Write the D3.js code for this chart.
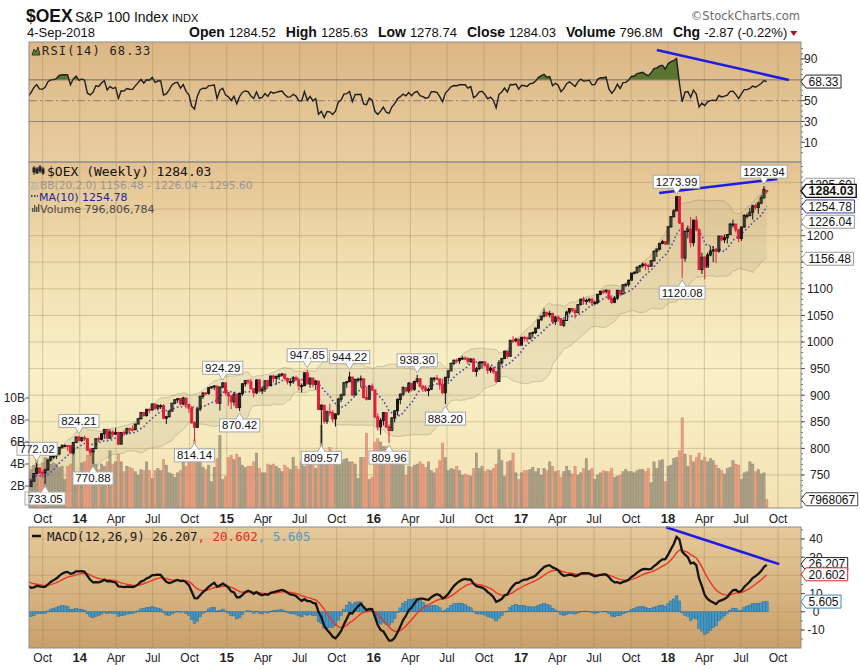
<!DOCTYPE html>
<html><head><meta charset="utf-8">
<script src="https://cdn.jsdelivr.net/npm/d3@7/dist/d3.min.js"></script>
<style>html,body{margin:0;padding:0;background:#fff;}svg{display:block}</style>
</head><body>
<script>
// ================= DATA =================
const firstWeekMonday = "2013-08-26";
// weekly closes before the visible window (used only to warm up the indicators)
const warmupCloses = [654.0,656.5,662.7,670.3,674.9,677.0,677.8,676.0,677.1,691.8,696.1,694.4,699.9,692.8,708.6,693.6,705.7,720.0,728.6,743.7,735.7,727.3,732.9,725.5,710.2,716.4,727.8,749.4,754.7,754.5,762.5,754.4,738.5,741.9];
const closes = [
728.3,738.2,752.8,762.6,754.5,754.0,759.6,778.0,784.9,785.7,789.7,802.0,804.9,805.4,805.1,791.8,811.0,821.3,
815.0,819.9,818.2,796.7,793.3,799.7,818.2,817.1,827.5,835.7,819.3,830.6,826.6,830.0,808.0,829.9,829.2,837.1,835.9,835.6,845.7,856.0,867.5,861.6,873.5,872.6,883.5,875.6,880.3,880.4,856.7,859.6,870.0,884.8,891.5,893.4,883.6,894.6,882.4,875.7,848.2,839.6,874.2,898.0,904.2,903.6,914.1,915.9,917.3,885.0,915.2,923.2,
904.6,898.7,887.5,901.8,876.8,903.4,921.6,927.5,925.0,912.2,904.5,928.6,907.9,911.5,927.0,917.8,935.9,931.9,935.3,938.3,939.7,931.5,925.0,925.6,932.6,928.9,917.9,917.9,942.1,921.3,932.0,920.4,926.5,873.1,881.1,851.1,868.7,867.4,855.6,864.5,892.6,900.7,923.4,925.3,934.1,900.3,929.7,930.1,930.8,895.5,892.5,917.1,909.6,
859.2,840.5,852.4,867.3,840.4,833.6,857.2,870.8,892.0,901.9,914.1,908.0,922.4,911.2,925.9,930.8,917.0,913.4,908.7,911.2,932.0,932.0,930.7,919.6,904.6,933.7,945.7,959.8,965.7,965.1,969.2,969.7,969.6,963.1,967.9,944.7,949.8,961.1,962.7,956.3,947.0,950.7,944.1,925.8,961.0,968.8,982.7,973.2,1003.2,1002.6,1005.1,994.0,
1008.7,1007.7,1006.2,1016.5,1017.8,1026.0,1041.6,1048.7,1055.7,1051.1,1053.6,1038.4,1046.7,1043.5,1031.7,1040.5,1056.2,1062.9,1059.2,1055.1,1070.2,1080.5,1077.3,1077.9,1080.2,1073.6,1074.4,1089.5,1095.3,1095.1,1097.2,1081.5,1074.5,1082.3,1097.1,1090.4,1107.6,1108.5,1116.1,1129.4,1131.0,1140.8,1143.4,1146.4,1143.9,1142.4,1152.9,1170.5,1174.6,1185.4,1188.7,1184.4,
1216.6,1235.7,1246.4,1273.2,1223.6,1157.8,1207.6,1211.6,1186.8,1228.9,1210.9,1136.2,1159.3,1140.8,1163.5,1170.9,1173.4,1170.6,1198.8,1192.3,1196.0,1201.9,1221.4,1221.7,1210.8,1194.7,1216,1238,1238,1244,1256,1253,1261,1271,1286.9,1284.03];
const highs = [
744.6,743,753.5,772.02,764,758,762,779,786,790,791,802.5,808,808,806,806,812,822,
824.21,822,824,819,801,800,818.5,822,829,836.5,835,836,834,838,829,830.5,834,839,839,843,846.5,856.5,868,868,874,874,884,883,883,883,883,861,871,885.5,892,894.5,893,897,894,884,880,851,875,898.5,905,906,915,917,919,917,916,924.29,
923,906,900,906,903,905,922,928,930,931,913,930,931,917,928,930,937,939,937,941,942,940,933,930,936,937,926,922,943,947.85,934,933,929,926,883,875,871,884,872,866,895,903,925,927,944.22,932,931,933,937,930,915,918,922,
906,866,857,868,866,845,859,872,894,903,917,915,925,922,927,938.30,932,919,919,914,933,934,938,928,931,934,947,961,967,969,970,974,973,970,970,970,953,964,964,963,958,954,954,945,966,970,983,983,1004,1011,1008,1007,
1010,1012,1010,1018,1020,1027,1042,1049,1063,1057,1059,1055,1049,1050,1045,1043,1059,1063,1063,1064,1071,1081,1085,1082,1083,1083,1078,1090,1096,1099,1099,1098,1088,1086,1098,1097,1108,1110,1117,1130,1133,1141,1145,1149,1149,1146,1154,1172,1176,1186,1192,1189,
1217,1236,1250,1273.99,1272,1216,1210,1219,1235,1230,1237,1214,1168,1162,1168,1180,1180,1177,1200,1201,1202,1203,1224,1230,1222,1213,1217,1240,1242,1252,1258,1260,1264,1276,1292.94,1285.63];
const lows = [
725.9,728.5,739,752,752.5,745,733.05,758,775,780,780,787,799,802,795,790,788,812,
813,812,814,796,786,770.88,799,812,815,818,818,818,821,826,806,808,824,826,829,832,834,846,854,860,860,866,871,872,871,874,855,846,858,870,883,886,881,881,875,867,846,814.14,838,870,893,900,901,912,910,884,871,913,
900,880,874,880,875,870.42,899,916,920,910,896,902,905,902,906,912,917,924,920,929,935,928,920,917,921,927,909,905,917,920,914,915,910,872,809.57,846,846,862,849,841,862,887,898,914,925,899,900,924,915,894,890,892,908,
857,834,826,843,838,809.96,836,849,862,883,898,905,904,907,908,922,914,906,906,898,910,925,928,910,902,883.20,926,946,957,960,959,967,966,958,961,944,935,947,950,952,940,942,940,923,925,957,969,969,973,998,999,992,
995,1001,1000,1005,1008,1015,1025,1040,1046,1047,1046,1034,1032,1038,1030,1028,1050,1052,1056,1044,1056,1069,1070,1070,1074,1068,1069,1071,1088,1090,1091,1079,1071,1073,1079,1086,1095,1103,1104,1117,1127,1128,1131,1140,1135,1135,1143,1151,1160,1172,1184,1182,
1188,1215,1234,1247,1222,1120.08,1151,1195,1178,1180,1208,1135,1128,1118,1143,1161,1150,1148,1168,1189,1186,1185,1203,1215,1206,1188,1190,1215,1232,1236,1230,1249,1241,1259,1270,1278.74];
// weekly volume, billions of shares
const volumesB = [
3.2,3.5,3.9,4.9,3.7,4.1,4.6,4.5,4.0,4.1,4.0,3.7,3.8,2.6,3.8,4.0,5.4,2.3,
2.6,4.1,4.2,4.8,5.4,5.2,4.0,3.5,4.0,3.8,4.2,5.2,4.0,4.2,4.9,4.2,3.3,3.8,3.7,3.6,3.3,3.0,3.5,3.4,4.2,3.4,2.7,3.4,3.6,3.4,4.4,3.9,3.2,3.1,2.8,3.2,3.4,4.9,3.8,4.3,4.9,6.2,4.5,4.7,3.7,3.5,3.9,2.4,3.7,4.5,6.6,2.6,
2.9,4.6,4.8,4.4,4.9,4.6,3.9,3.7,3.8,3.8,4.2,5.0,3.6,3.2,3.2,4.0,3.9,4.0,3.8,3.6,3.3,3.9,3.7,3.5,4.6,3.8,3.5,4.2,3.8,4.0,4.2,3.9,3.6,5.1,7.5,4.8,4.2,5.5,4.5,4.9,4.6,4.1,4.4,4.5,4.2,4.2,4.0,2.7,4.6,4.6,6.8,2.6,2.8,
6.0,6.3,6.0,5.6,5.6,5.6,4.5,4.6,4.8,4.2,5.0,3.0,3.8,3.7,3.9,4.0,4.2,4.0,3.7,4.2,3.4,3.2,3.6,4.3,5.9,4.6,3.4,3.6,3.5,3.8,3.4,3.0,3.1,3.0,2.9,3.6,5.0,3.6,3.8,3.3,3.5,3.4,3.6,4.0,5.3,4.3,2.9,4.2,4.3,5.0,3.2,2.6,
3.2,3.4,3.4,3.5,3.7,3.3,3.6,3.0,3.6,3.4,4.2,3.8,3.3,3.4,2.8,3.3,3.8,3.4,3.1,3.8,3.0,3.2,3.6,4.5,3.4,3.6,2.6,3.0,3.2,3.4,3.3,3.3,3.6,2.8,2.9,3.0,3.3,3.5,3.3,3.3,3.2,3.4,3.5,3.5,3.3,3.6,2.3,4.2,3.6,4.3,4.4,2.4,
3.8,3.9,4.5,4.6,5.2,8.2,4.9,3.8,4.8,4.2,4.6,5.0,4.3,4.6,4.2,4.5,4.3,3.9,3.6,3.4,3.1,3.6,3.7,4.3,4.0,3.9,2.6,3.2,3.3,4.2,4.0,3.3,3.5,3.1,3.2,0.7968];
const lastOpen = 1284.52;

// swing labels: [week index, "high"|"low"]
const annotations = [[3,"high"],[6,"low"],[18,"high"],[23,"low"],[59,"low"],[69,"high"],[75,"low"],[99,"high"],[104,"low"],[114,"high"],[128,"low"],[138,"high"],[148,"low"],[230,"high"],[232,"low"],[261,"high"]];

// hand-drawn trend lines (date, value)
const rsiTrend = [["2017-12-04",98.7],["2018-10-28",69.9]];
const priceTrend = [["2017-12-10",1280.1],["2018-09-29",1306.4]];
const macdTrend = [["2017-12-27",46.4],["2018-10-04",26.2]];

// header text
const symbol = "$OEX", symName = "S&P 100 Index", exch = "INDX", quoteDate = "4-Sep-2018";
const quoteLabels = ["Open","High","Low","Close","Volume","Chg"];
const quoteValues = ["1284.52","1285.63","1278.74","1284.03","796.8M","-2.87 (-0.22%)"];

// legend / last-value texts
const rsiLegend = "RSI(14) 68.33", rsiLast = 68.33;
const priceLegend = "$OEX (Weekly) 1284.03";
const bbLegend = "BB(20,2.0) 1156.48 - 1226.04 - 1295.60";
const maLegend = "MA(10) 1254.78";
const volLegend = "Volume 796,806,784";
const bbLast = [1156.48, 1226.04, 1295.60], maLast = 1254.78, closeLast = 1284.03;
const volLastLabel = "7968067", volLast = 0.7968;
const macdLast = [26.207, 20.602, 5.605];

const priceGrid = [750,800,850,900,950,1000,1050,1100,1150,1200,1250,1300];
const priceTickLabels = [750,800,850,900,950,1000,1050,1100,1200];
const volTicks = [2,4,6,8,10];
const rsiGrid = [10,30,50,70,90];
const rsiTickLabels = [10,30,50,90];
const macdGrid = [-10,0,10,20,30,40];
const macdTickLabels = [-10,0,10,30,40];

// ================= LAYOUT =================
const W = 860, H = 670;
const L = 29, R = 801;
const rsiTop = 42, rsiBot = 162, mainTop = 162, mainBot = 508, macdTop = 527, macdBot = 648;
const FONT = "'Liberation Sans', Arial, sans-serif";

const parse = d3.timeParse("%Y-%m-%d");
const start = parse(firstWeekMonday);
const dates = closes.map((_, i) => d3.timeDay.offset(start, 7 * i));
const n = closes.length;

const x = d3.scaleTime().domain([parse("2013-08-28"), parse("2018-11-27")]).range([L, R]);
const yP = d3.scaleLinear().domain([750, 1300]).range([475, 182.4]);
const yV = d3.scaleLinear().domain([0, 10]).range([508, 398]);
const yR = d3.scaleLinear().domain([10, 90]).range([142.3, 59]);
const yM = d3.scaleLinear().domain([-10, 40]).range([630, 539]);

// ================= INDICATORS =================
const all = warmupCloses.concat(closes);
const off = warmupCloses.length;
const ma10 = [], bbU = [], bbM = [], bbL = [];
for (let i = 0; i < n; i++) {
  const k = i + off;
  ma10.push(d3.mean(all.slice(k - 9, k + 1)));
  const w20 = all.slice(Math.max(0, k - 19), k + 1);
  const m = d3.mean(w20);
  const sd = Math.sqrt(d3.mean(w20, v => (v - m) * (v - m)));
  bbM.push(m); bbU.push(m + 2 * sd); bbL.push(m - 2 * sd);
}
function ema(arr, p) { const a = 2 / (p + 1); const out = [arr[0]]; for (let i = 1; i < arr.length; i++) out.push(a * arr[i] + (1 - a) * out[i - 1]); return out; }
const e12 = ema(all, 12), e26 = ema(all, 26);
const macdAll = all.map((_, i) => e12[i] - e26[i]);
const sigAll = ema(macdAll, 9);
const macd = macdAll.slice(off), signal = sigAll.slice(off), hist = macd.map((v, i) => v - signal[i]);
const rsiAll = new Array(all.length).fill(null);
{
  let g = 0, l = 0;
  for (let i = 1; i <= 14; i++) { const d = all[i] - all[i - 1]; if (d > 0) g += d; else l -= d; }
  g /= 14; l /= 14; rsiAll[14] = 100 - 100 / (1 + g / l);
  for (let i = 15; i < all.length; i++) {
    const d = all[i] - all[i - 1];
    g = (g * 13 + Math.max(d, 0)) / 14; l = (l * 13 + Math.max(-d, 0)) / 14;
    rsiAll[i] = 100 - 100 / (1 + g / l);
  }
}
const rsi = rsiAll.slice(off);
const prevClose = i => (i === 0 ? warmupCloses[warmupCloses.length - 1] : closes[i - 1]);
const openOf = i => (i === n - 1 ? lastOpen : prevClose(i));

// ================= SVG =================
const svg = d3.select("body").append("svg").attr("width", W).attr("height", H)
  .style("font-family", FONT).style("background", "#fff");
const defs = svg.append("defs");
function vgrad(id, stops) {
  const g = defs.append("linearGradient").attr("id", id).attr("x1", 0).attr("y1", 0).attr("x2", 0).attr("y2", 1);
  stops.forEach(([o, c]) => g.append("stop").attr("offset", o).attr("stop-color", c));
}
vgrad("gRsi", [[0, "#dcb785"], [1, "#e8cd9f"]]);
vgrad("gMain", [[0, "#e3c290"], [0.3, "#f1dfb0"], [0.6, "#f9f0c7"], [1, "#f3e3b4"]]);
vgrad("gMacd", [[0, "#e6ca9b"], [1, "#c9a06a"]]);
function clip(id, top, bot) { defs.append("clipPath").attr("id", id).append("rect").attr("x", L).attr("y", top).attr("width", R - L).attr("height", bot - top); }
clip("cRsi", rsiTop, rsiBot); clip("cMain", mainTop, mainBot); clip("cMacd", macdTop, macdBot);
defs.append("clipPath").attr("id", "cOver").append("rect").attr("x", L).attr("y", rsiTop).attr("width", R - L).attr("height", yR(70) - rsiTop);

const qTicks = x.ticks(d3.timeMonth.every(3));
const gridCol = "rgba(150,120,80,0.33)";

function panel(top, bot, grad) {
  svg.append("rect").attr("x", L).attr("y", top).attr("width", R - L).attr("height", bot - top).attr("fill", `url(#${grad})`);
  svg.append("g").selectAll("line").data(qTicks).join("line")
    .attr("x1", d => x(d)).attr("x2", d => x(d)).attr("y1", top).attr("y2", bot)
    .attr("stroke", gridCol).attr("stroke-width", 1);
}
panel(rsiTop, rsiBot, "gRsi");
panel(mainTop, mainBot, "gMain");
panel(macdTop, macdBot, "gMacd");

// ---------- header ----------
svg.append("text").attr("x", 26).attr("y", 22).attr("font-size", 17.5).attr("font-weight", "bold").attr("fill", "#111").text(symbol);
svg.append("text").attr("x", 75).attr("y", 22).attr("font-size", 14).attr("fill", "#111").text(symName);
svg.append("text").attr("x", 172).attr("y", 22).attr("font-size", 11).attr("fill", "#111").text(exch);
svg.append("text").attr("x", 27).attr("y", 37).attr("font-size", 13).attr("fill", "#111").text(quoteDate);
svg.append("text").attr("x", 800).attr("y", 20).attr("text-anchor", "end").attr("font-size", 11.5)
  .attr("font-family", "'DejaVu Sans', Verdana, sans-serif").attr("fill", "#6a6a6a").text("\u00A9StockCharts.com");
{
  const t = svg.append("text").attr("x", 189).attr("y", 37).attr("font-size", 13).attr("fill", "#111");
  quoteLabels.forEach((lab, i) => {
    t.append("tspan").attr("dx", i === 0 ? 0 : 10).attr("font-weight", "bold").attr("font-size", 14).text(lab);
    t.append("tspan").attr("dx", 4).text(quoteValues[i]);
  });
  const bb = t.node().getBBox();
  svg.append("path").attr("d", `M${bb.x + bb.width + 3},31 h7 l-3.5,5 z`).attr("fill", "#b0102c");
}

// ---------- RSI panel ----------
[70, 30].forEach(v => svg.append("line").attr("x1", L).attr("x2", R).attr("y1", yR(v)).attr("y2", yR(v)).attr("stroke", "#8d8577").attr("stroke-width", 1.2));
svg.append("line").attr("x1", L).attr("x2", R).attr("y1", yR(50)).attr("y2", yR(50)).attr("stroke", "#9a8f7c").attr("stroke-width", 1.2).attr("stroke-dasharray", "8,3,2,3");
const idx = d3.range(n);
svg.append("path").attr("clip-path", "url(#cOver)").attr("fill", "#59752f").attr("stroke", "none")
  .attr("d", d3.area().x(i => x(dates[i])).y0(yR(70)).y1(i => yR(rsi[i]))(idx));
svg.append("path").attr("clip-path", "url(#cRsi)").attr("fill", "none").attr("stroke", "#1e1e1e").attr("stroke-width", 1.4)
  .attr("d", d3.line().x(i => x(dates[i])).y(i => yR(rsi[i]))(idx));
svg.append("line").attr("x1", x(parse(rsiTrend[0][0]))).attr("y1", yR(rsiTrend[0][1])).attr("x2", x(parse(rsiTrend[1][0]))).attr("y2", yR(rsiTrend[1][1]))
  .attr("stroke", "#1c1ce6").attr("stroke-width", 2.6);
svg.append("path").attr("d", "M32,55 L34,49 L36,52 L38,47 L40,55 Z").attr("fill", "#5d7a32").attr("stroke", "#222").attr("stroke-width", 0.8);
svg.append("text").attr("x", 42).attr("y", 55).attr("font-family", "'DejaVu Sans Mono', monospace").attr("font-size", 12).attr("letter-spacing", 1.2).attr("fill", "#222").text(rsiLegend);

// ---------- MAIN panel ----------
const gM = svg.append("g").attr("clip-path", "url(#cMain)");
gM.selectAll("line.h").data(priceGrid).join("line").attr("x1", L).attr("x2", R).attr("y1", d => yP(d)).attr("y2", d => yP(d)).attr("stroke", gridCol);
gM.append("path").attr("fill", "rgba(165,155,125,0.17)").attr("stroke", "none")
  .attr("d", d3.area().x(i => x(dates[i])).y0(i => yP(bbL[i])).y1(i => yP(bbU[i]))(idx));
[bbU, bbL].forEach(arr => gM.append("path").attr("fill", "none").attr("stroke", "rgba(150,140,115,0.42)").attr("stroke-width", 1)
  .attr("d", d3.line().x(i => x(dates[i])).y(i => yP(arr[i]))(idx)));
gM.selectAll("rect.v").data(idx).join("rect")
  .attr("x", i => x(dates[i]) - 1.2).attr("width", 2.4)
  .attr("y", i => yV(volumesB[i])).attr("height", i => yV(0) - yV(volumesB[i]))
  .attr("fill", i => closes[i] < prevClose(i) ? "rgba(228,138,112,0.78)" : "rgba(150,142,122,0.78)")
  .attr("stroke", i => closes[i] < prevClose(i) ? "rgba(200,110,90,0.6)" : "rgba(120,112,95,0.6)").attr("stroke-width", 0.5);
gM.append("path").attr("fill", "none").attr("stroke", "#4b4ba8").attr("stroke-width", 1.6).attr("stroke-dasharray", "1.6,2.4")
  .attr("d", d3.line().x(i => x(dates[i])).y(i => yP(ma10[i]))(idx));
const cg = gM.append("g");
idx.forEach(i => {
  const cx = x(dates[i]), o = openOf(i), c = closes[i];
  const col = c < prevClose(i) ? "#e01e3c" : "#111";
  cg.append("line").attr("x1", cx).attr("x2", cx).attr("y1", yP(highs[i])).attr("y2", yP(lows[i])).attr("stroke", col).attr("stroke-width", 1);
  const top = yP(Math.max(o, c)), h = Math.max(1, Math.abs(yP(o) - yP(c)));
  cg.append("rect").attr("x", cx - 1).attr("width", 2).attr("y", top).attr("height", h)
    .attr("fill", c >= o ? "none" : col).attr("stroke", col).attr("stroke-width", 1);
});
svg.append("line").attr("x1", x(parse(priceTrend[0][0]))).attr("y1", yP(priceTrend[0][1])).attr("x2", x(parse(priceTrend[1][0]))).attr("y2", yP(priceTrend[1][1]))
  .attr("stroke", "#1c1ce6").attr("stroke-width", 2.6);
annotations.forEach(([i, type]) => {
  const cx = x(dates[i]);
  const v = type === "high" ? highs[i] : lows[i];
  const py = yP(v);
  const g = svg.append("g");
  const t = g.append("text").attr("font-size", 11.5).attr("fill", "#111").attr("text-anchor", "middle").text(v.toFixed(2));
  const w = t.node().getComputedTextLength() + 5, h = 13;
  const bx = Math.max(cx - w / 2, 17);
  const boxY = type === "high" ? py - 8 - h : py + 8;
  g.insert("rect", "text").attr("x", bx).attr("y", boxY).attr("width", w).attr("height", h).attr("fill", "#fff").attr("stroke", "#a8a8a8").attr("stroke-width", 1);
  const tipY = type === "high" ? py - 2 : py + 2, baseY = type === "high" ? boxY + h - 0.5 : boxY + 0.5;
  g.append("path").attr("d", `M${cx - 4},${baseY} L${cx},${tipY} L${cx + 4},${baseY} Z`).attr("fill", "#fff").attr("stroke", "none");
  g.append("path").attr("d", `M${cx - 4},${baseY} L${cx},${tipY} L${cx + 4},${baseY}`).attr("fill", "none").attr("stroke", "#a8a8a8");
  t.attr("x", bx + w / 2).attr("y", boxY + 10.5);
});
{
  const ic = svg.append("g").attr("stroke", "#222").attr("fill", "#222");
  [[34, 166, 175], [37, 167, 174], [40, 165, 173], [43, 167, 175]].forEach(([xx, a, b]) => { ic.append("line").attr("x1", xx).attr("x2", xx).attr("y1", a).attr("y2", b).attr("stroke-width", 1); ic.append("rect").attr("x", xx - 1).attr("y", a + 2).attr("width", 2).attr("height", 4); });
  svg.append("text").attr("x", 47).attr("y", 176).attr("font-family", "'DejaVu Sans Mono', monospace").attr("font-size", 13).attr("fill", "#111").text(priceLegend);
  svg.append("path").attr("d", "M31,189 L34,182 L37,185 L39,189 Z").attr("fill", "#c9c2ae").attr("stroke", "#b0a890").attr("stroke-width", 0.6);
  svg.append("text").attr("x", 40).attr("y", 188.5).attr("font-family", "'DejaVu Sans', Verdana, sans-serif").attr("font-size", 10.6).attr("fill", "#979797").text(bbLegend);
  svg.append("line").attr("x1", 31).attr("x2", 38).attr("y1", 196).attr("y2", 196).attr("stroke", "#3b3ba0").attr("stroke-width", 1.8).attr("stroke-dasharray", "1.5,1.5");
  svg.append("text").attr("x", 39).attr("y", 200.5).attr("font-family", "'DejaVu Sans', Verdana, sans-serif").attr("font-size", 11).attr("fill", "#25259a").text(maLegend);
  [[32, 208], [34, 205], [36, 207], [38, 204]].forEach(([xx, yy]) => svg.append("rect").attr("x", xx).attr("y", yy).attr("width", 1.4).attr("height", 212 - yy).attr("fill", "#555"));
  svg.append("text").attr("x", 40).attr("y", 212.5).attr("font-family", "'DejaVu Sans', Verdana, sans-serif").attr("font-size", 11).attr("fill", "#4a4a4a").text(volLegend);
}

// ---------- MACD panel ----------
const gD = svg.append("g").attr("clip-path", "url(#cMacd)");
gD.selectAll("line.h").data(macdGrid).join("line").attr("x1", L).attr("x2", R).attr("y1", d => yM(d)).attr("y2", d => yM(d)).attr("stroke", "rgba(150,120,80,0.25)");
gD.selectAll("rect.h").data(idx).join("rect")
  .attr("x", i => x(dates[i]) - 1.4).attr("width", 2.8)
  .attr("y", i => Math.min(yM(0), yM(hist[i]))).attr("height", i => Math.abs(yM(hist[i]) - yM(0)))
  .attr("fill", "#4797c4").attr("stroke", "#2b6c96").attr("stroke-width", 0.5);
gD.append("path").attr("fill", "none").attr("stroke", "#ec3524").attr("stroke-width", 1.4)
  .attr("d", d3.line().x(i => x(dates[i])).y(i => yM(signal[i]))(idx));
gD.append("path").attr("fill", "none").attr("stroke", "#141414").attr("stroke-width", 2.3)
  .attr("d", d3.line().x(i => x(dates[i])).y(i => yM(macd[i]))(idx));
svg.append("line").attr("x1", x(parse(macdTrend[0][0]))).attr("y1", yM(macdTrend[0][1])).attr("x2", x(parse(macdTrend[1][0]))).attr("y2", yM(macdTrend[1][1]))
  .attr("stroke", "#1c1ce6").attr("stroke-width", 2.6);
svg.append("line").attr("x1", 32).attr("x2", 41).attr("y1", 536).attr("y2", 536).attr("stroke", "#111").attr("stroke-width", 2.5);
{
  const t = svg.append("text").attr("x", 47).attr("y", 541).attr("font-family", "'DejaVu Sans Mono', monospace").attr("font-size", 12.5).attr("fill", "#1a1a1a");
  t.append("tspan").text(`MACD(12,26,9) ${macdLast[0].toFixed(3)}`);
  t.append("tspan").attr("fill", "#e8281e").text(`, ${macdLast[1].toFixed(3)}`);
  t.append("tspan").attr("fill", "#4a9cc8").text(`, ${macdLast[2].toFixed(3)}`);
}

// ---------- borders ----------
[[rsiTop, rsiBot], [mainTop, mainBot], [macdTop, macdBot]].forEach(([a, b]) =>
  svg.append("rect").attr("x", L).attr("y", a).attr("width", R - L).attr("height", b - a).attr("fill", "none").attr("stroke", "#8c8c8c").attr("stroke-width", 1));

// ---------- axes ----------
function xLabels(yBase) {
  svg.append("g").selectAll("text").data(qTicks).join("text")
    .attr("x", d => x(d)).attr("y", yBase).attr("text-anchor", "middle").attr("font-size", d => d.getMonth() === 0 ? 13 : 12)
    .attr("font-weight", d => d.getMonth() === 0 ? "bold" : "normal").attr("fill", "#222")
    .text(d => d.getMonth() === 0 ? d3.timeFormat("%y")(d) : d3.timeFormat("%b")(d));
}
xLabels(523); xLabels(662);
function rightTicks(scale, grid, labels, top, bot, xText, anchor, minorStep, lo, hi) {
  const g = svg.append("g");
  if (minorStep) d3.range(lo, hi + 0.001, minorStep).forEach(v => { const yy = scale(v); if (yy > top && yy < bot) g.append("line").attr("x1", R).attr("x2", R + 2).attr("y1", yy).attr("y2", yy).attr("stroke", "#777"); });
  grid.forEach(v => g.append("line").attr("x1", R).attr("x2", R + 4).attr("y1", scale(v)).attr("y2", scale(v)).attr("stroke", "#555"));
  labels.forEach(v => g.append("text").attr("x", xText).attr("y", scale(v) + 4.3).attr("text-anchor", anchor).attr("font-size", 12).attr("fill", "#222").text(v));
}
rightTicks(yR, rsiGrid, rsiTickLabels, rsiTop, rsiBot, 804, "start", 5, 0, 100);
rightTicks(yP, priceGrid, priceTickLabels, mainTop, mainBot, 820, "middle", 10, 690, 1330);
rightTicks(yM, macdGrid, macdTickLabels, macdTop, macdBot, 816, "middle", 5, -20, 45);
volTicks.forEach(v => {
  svg.append("line").attr("x1", 25).attr("x2", 29).attr("y1", yV(v)).attr("y2", yV(v)).attr("stroke", "#555");
  svg.append("text").attr("x", 25).attr("y", yV(v) + 4.3).attr("text-anchor", "end").attr("font-size", 12).attr("fill", "#222").text(v + "B");
});

// ---------- right value labels ----------
function valLabel(yy, text, stroke, opts = {}) {
  const g = svg.append("g");
  const t = g.append("text").attr("font-size", opts.size || 12).attr("font-weight", opts.bold ? "bold" : "normal").attr("fill", "#111").text(text);
  const w = t.node().getComputedTextLength() + 5, h = 13, x0 = R + 5;
  g.insert("path", "text").attr("d", `M${R},${yy} L${x0},${yy - h / 2} H${x0 + w} V${yy + h / 2} H${x0} Z`)
    .attr("fill", "#fff").attr("stroke", stroke).attr("stroke-width", opts.bold ? 1.4 : 1);
  t.attr("x", x0 + 2.5).attr("y", yy + 4.3);
}
valLabel(yR(rsiLast), rsiLast.toFixed(2), "#222");
valLabel(yP(bbLast[2]), bbLast[2].toFixed(2), "#999");
valLabel(yP(closeLast), closeLast.toFixed(2), "#111", { bold: true, size: 12.5 });
valLabel(yP(maLast), maLast.toFixed(2), "#3a3aa8");
valLabel(yP(bbLast[1]), bbLast[1].toFixed(2), "#999");
valLabel(yP(bbLast[0]), bbLast[0].toFixed(2), "#999");
valLabel(yV(volLast), volLastLabel, "#444");
valLabel(yM(macdLast[0]), macdLast[0].toFixed(3), "#222");
valLabel(yM(macdLast[1]), macdLast[1].toFixed(3), "#e02020");
valLabel(yM(macdLast[2]), macdLast[2].toFixed(3), "#3a86c0");
</script>
</body></html>
